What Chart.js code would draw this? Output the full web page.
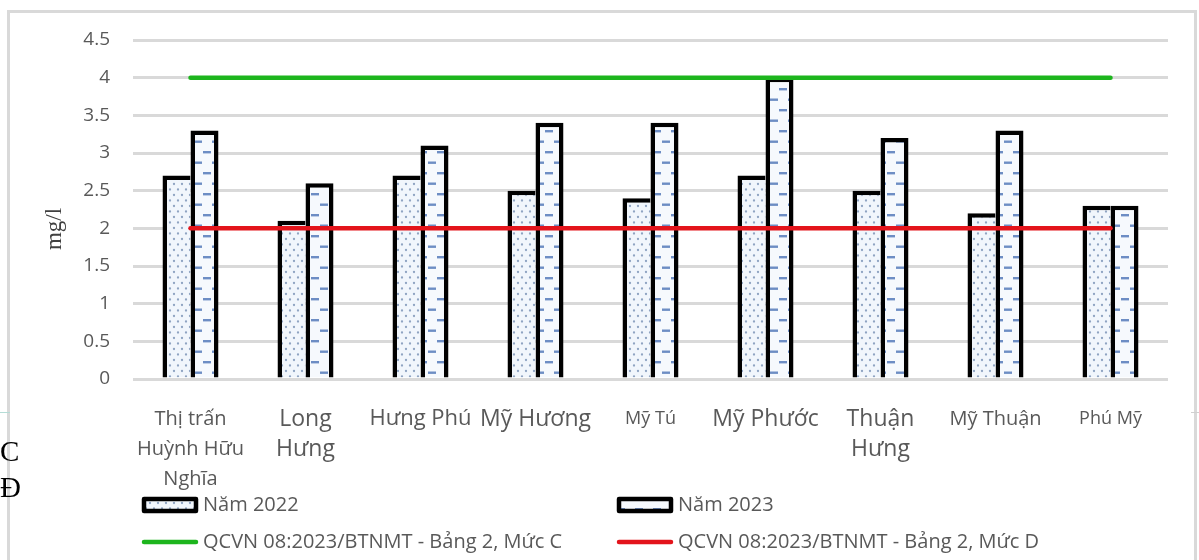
<!DOCTYPE html>
<html>
<head>
<meta charset="utf-8">
<script src="https://cdn.jsdelivr.net/npm/chart.js@4.4.1/dist/chart.umd.min.js"></script>
<style>
  html, body { margin: 0; padding: 0; background: #fff; width: 1199px; height: 560px; overflow: hidden; }
  body { position: relative; }
  #frame { position: absolute; left: 7px; top: 10px; width: 1190px; height: 600px; box-sizing: border-box;
           border: 3px solid #d9d9d9; border-bottom: none; }
  #chart { position: absolute; left: 0; top: 0; }
  .side { position: absolute; left: 0; font-family: "Liberation Serif", serif; font-size: 29px; line-height: 29px; color: #000; }
  .tick { position: absolute; height: 1px; }
</style>
</head>
<body>
<div id="frame"></div>
<div class="tick" style="left:0;top:412px;width:10px;background:#b5dcd6"></div>
<div class="tick" style="left:1191px;top:412px;width:8px;background:#d0d0d0"></div>
<canvas id="chart" width="1199" height="560"></canvas>
<div class="side" style="top:437px">C</div>
<div class="side" style="top:473px">Đ</div>
<script>
// Communes along the x axis (multi-line names as arrays)
const categories = [
  ['Thị trấn', 'Huỳnh Hữu', 'Nghĩa'],
  ['Long', 'Hưng'],
  'Hưng Phú',
  'Mỹ Hương',
  'Mỹ Tú',
  'Mỹ Phước',
  ['Thuận', 'Hưng'],
  'Mỹ Thuận',
  'Phú Mỹ'
];

// Measured concentrations (mg/l)
const nam2022 = [2.7, 2.1, 2.7, 2.5, 2.4, 2.7, 2.5, 2.2, 2.3];
const nam2023 = [3.3, 2.6, 3.1, 3.4, 3.4, 4.0, 3.2, 3.3, 2.3];

// Regulatory limits (QCVN 08:2023/BTNMT, table 2)
const mucC = [4, 4, 4, 4, 4, 4, 4, 4, 4];
const mucD = [2, 2, 2, 2, 2, 2, 2, 2, 2];

const seriesNames = [
  'Năm 2022',
  'Năm 2023',
  'QCVN 08:2023/BTNMT - Bảng 2, Mức C',
  'QCVN 08:2023/BTNMT - Bảng 2, Mức D'
];

const yTickLabels = ['0', '0.5', '1', '1.5', '2', '2.5', '3', '3.5', '4', '4.5'];
const yUnit = 'mg/l';

// Font size per category label
const catFontSizes = [20, 23, 22, 23, 18, 23, 23, 20, 18];

// ---- fill patterns ----
function dotPattern() {
  const c = document.createElement('canvas');
  c.width = 8; c.height = 11;
  const g = c.getContext('2d');
  g.fillStyle = '#f1f6fc';
  g.fillRect(0, 0, 8, 11);
  g.fillStyle = '#8fa4c2';
  [[2, 2.5], [6, 8]].forEach(([x, y]) => {
    g.beginPath(); g.arc(x, y, 1.15, 0, Math.PI * 2); g.fill();
  });
  return g.createPattern(c, 'repeat');
}
function dashPattern() {
  const c = document.createElement('canvas');
  c.width = 18; c.height = 21;
  const g = c.getContext('2d');
  g.fillStyle = '#f6f9fd';
  g.fillRect(0, 0, 18, 21);
  g.fillStyle = '#6d8dc4';
  g.fillRect(5, 4, 8, 2.4);
  g.fillRect(14, 14.5, 8, 2.4);
  g.fillRect(-4, 14.5, 8, 2.4);
  return g.createPattern(c, 'repeat');
}
const fill2022 = dotPattern();
const fill2023 = dashPattern();

const GREEN = '#1db51d';
const RED = '#e3141b';
const TEXT = '#595959';
const FONT = '"Open Sans", "Liberation Sans", sans-serif';

// Rotated unit label beside the value axis
const unitPlugin = {
  id: 'unitLabel',
  afterDraw(chart) {
    const ctx = chart.ctx;
    ctx.save();
    ctx.translate(55, 229);
    ctx.rotate(-Math.PI / 2);
    ctx.fillStyle = '#404040';
    ctx.font = '23px "Liberation Serif", serif';
    ctx.textAlign = 'center';
    ctx.textBaseline = 'middle';
    ctx.fillText(yUnit, 0, 0);
    ctx.restore();
  }
};

// Two-column legend drawn under the plot
const legendPlugin = {
  id: 'gridLegend',
  afterDraw(chart) {
    const ctx = chart.ctx;
    const colX = [142, 617];
    const rowY = [505, 542];
    chart.data.datasets.forEach((ds, i) => {
      const x = colX[i % 2];
      const y = rowY[Math.floor(i / 2)];
      ctx.save();
      if (ds.type === 'line') {
        ctx.strokeStyle = ds.borderColor;
        ctx.lineWidth = 4.5;
        ctx.lineCap = 'round';
        ctx.beginPath();
        ctx.moveTo(x + 2, y);
        ctx.lineTo(x + 54, y);
        ctx.stroke();
      } else {
        ctx.fillStyle = ds.backgroundColor;
        ctx.strokeStyle = '#000';
        ctx.lineWidth = 4.5;
        ctx.lineJoin = 'round';
        ctx.beginPath();
        ctx.rect(x + 2, y - 6, 52, 12);
        ctx.fill();
        ctx.stroke();
      }
      ctx.fillStyle = TEXT;
      ctx.font = '20px ' + FONT;
      ctx.textBaseline = 'middle';
      ctx.textAlign = 'left';
      ctx.fillText(ds.label, x + 61, y);
      ctx.restore();
    });
  }
};

new Chart(document.getElementById('chart'), {
  data: {
    labels: categories,
    datasets: [
      {
        type: 'bar', label: seriesNames[0], data: nam2022, order: 2,
        backgroundColor: fill2022, borderColor: '#000',
        borderWidth: { left: 4.5, top: 4.5, right: 0, bottom: 0 },
        categoryPercentage: 0.487, barPercentage: 1
      },
      {
        type: 'bar', label: seriesNames[1], data: nam2023, order: 3,
        backgroundColor: fill2023, borderColor: '#000', borderWidth: 4.5,
        categoryPercentage: 0.487, barPercentage: 1
      },
      {
        type: 'line', label: seriesNames[2], data: mucC, order: 1,
        borderColor: GREEN, backgroundColor: GREEN, borderWidth: 4.5,
        borderCapStyle: 'round', pointRadius: 0, fill: false
      },
      {
        type: 'line', label: seriesNames[3], data: mucD, order: 0,
        borderColor: RED, backgroundColor: RED, borderWidth: 4.5,
        borderCapStyle: 'round', pointRadius: 0, fill: false
      }
    ]
  },
  options: {
    responsive: false,
    animation: false,
    events: [],
    devicePixelRatio: 1,
    layout: { padding: { left: 0, right: 31, top: 40, bottom: 0 } },
    plugins: {
      legend: { display: false },
      tooltip: { enabled: false }
    },
    scales: {
      x: {
        offset: true,
        grid: { display: false },
        border: { display: false },
        ticks: {
          autoSkip: false,
          maxRotation: 0,
          minRotation: 0,
          padding: 17,
          color: TEXT,
          font: (c) => ({ family: FONT, size: catFontSizes[c.index] ?? 20, lineHeight: '30px' })
        },
        afterFit: (scale) => { scale.height = 181; }
      },
      y: {
        min: 0,
        max: 4.5,
        border: { display: false },
        grid: { color: '#d9d9d9', lineWidth: 3, drawTicks: false },
        ticks: {
          stepSize: 0.5,
          padding: 23,
          color: TEXT,
          font: { family: FONT, size: 19 },
          callback: (v, i) => yTickLabels[i]
        },
        afterFit: (scale) => { scale.width = 133; }
      }
    }
  },
  plugins: [legendPlugin, unitPlugin]
});
</script>
</body>
</html>
